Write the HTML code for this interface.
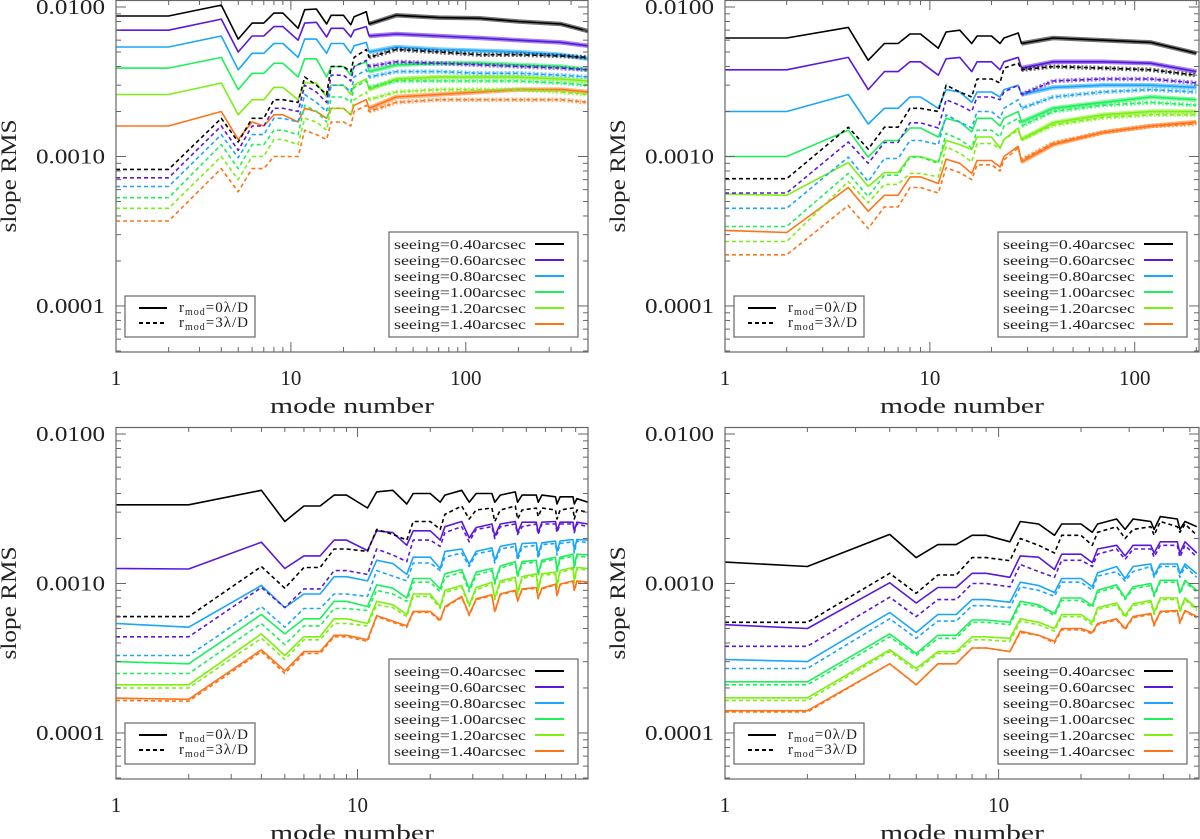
<!DOCTYPE html>
<html><head><meta charset="utf-8"><title>slope RMS vs mode number</title>
<style>
html,body{margin:0;padding:0;background:#fff;}
svg{display:block;font-family:"Liberation Serif",serif;}
</style></head>
<body>
<svg id="chart" width="1200" height="839" viewBox="0 0 1200 839" xmlns="http://www.w3.org/2000/svg"></svg>
<script>
// ---- shared data ----
const seeingLabels = ["seeing=0.40arcsec","seeing=0.60arcsec","seeing=0.80arcsec","seeing=1.00arcsec","seeing=1.20arcsec","seeing=1.40arcsec"];
const seeingColors = ["#000000","#5a18dc","#1aa6fa","#1cf05a","#7cf010","#ff7418"];
const yTickValues = [0.01,0.001,0.0001];
const yTickLabels = ["0.0100","0.0010","0.0001"];

// ---- top-left panel ----
const tlModes = [1,2,4,5,6,7,8,9,11,12,14,16,17,20,22,23,27,28,40,70,120,200,350,500];
const tlSolid = [
[0.0087,0.0087,0.0103,0.0061,0.0078,0.0078,0.0091,0.0091,0.0072,0.0096,0.0097,0.0077,0.0088,0.0088,0.0076,0.0086,0.0093,0.0077,0.0088,0.0085,0.0084,0.0080,0.0077,0.0069],
[0.0070,0.0070,0.0083,0.0050,0.0064,0.0064,0.0074,0.0074,0.0060,0.0078,0.0079,0.0063,0.0072,0.0072,0.0063,0.0070,0.0074,0.0064,0.0066,0.0064,0.0062,0.0060,0.0058,0.0055],
[0.0054,0.0054,0.0064,0.0038,0.0049,0.0049,0.0057,0.0057,0.0046,0.0061,0.0061,0.0049,0.0057,0.0057,0.0049,0.0055,0.0058,0.0050,0.0054,0.0052,0.0051,0.0050,0.0048,0.0045],
[0.0039,0.0039,0.0046,0.0028,0.0036,0.0036,0.0042,0.0042,0.0034,0.0045,0.0045,0.0034,0.0040,0.0040,0.0035,0.0040,0.0043,0.0037,0.0041,0.0042,0.0042,0.0041,0.0040,0.0038],
[0.0026,0.0026,0.0031,0.0019,0.0024,0.0024,0.0029,0.0029,0.0024,0.0031,0.0031,0.0025,0.0030,0.0030,0.0026,0.0030,0.0033,0.0028,0.0033,0.0034,0.0034,0.0034,0.0033,0.0032],
[0.0016,0.0016,0.0020,0.0013,0.0017,0.0016,0.0019,0.0019,0.0017,0.0021,0.0020,0.0018,0.0021,0.0021,0.0019,0.0022,0.0024,0.0021,0.0025,0.0026,0.0027,0.0028,0.0028,0.0027]];
const tlDashed = [
[0.00082,0.00082,0.0018,0.00125,0.0018,0.0018,0.0024,0.0024,0.0023,0.0034,0.0030,0.0026,0.0040,0.0040,0.0037,0.0046,0.0052,0.0046,0.0052,0.0050,0.0048,0.0048,0.0047,0.0046],
[0.00072,0.00072,0.0016,0.0011,0.0016,0.0016,0.0021,0.0021,0.0020,0.0030,0.0027,0.0023,0.0035,0.0035,0.0032,0.0040,0.0044,0.0040,0.0043,0.0042,0.0041,0.0040,0.0039,0.0038],
[0.00063,0.00063,0.0014,0.00098,0.0014,0.0014,0.0018,0.0018,0.0017,0.0026,0.0023,0.0020,0.0030,0.0030,0.0027,0.0034,0.0038,0.0034,0.0037,0.0037,0.0036,0.0036,0.0035,0.0034],
[0.00053,0.00053,0.0012,0.00083,0.0012,0.0012,0.0015,0.0015,0.0014,0.0022,0.0020,0.0017,0.0025,0.0025,0.0023,0.0029,0.0032,0.0029,0.0032,0.0032,0.0032,0.0032,0.0031,0.0030],
[0.00045,0.00045,0.0010,0.00070,0.0010,0.0010,0.0013,0.0013,0.0012,0.0018,0.0017,0.0015,0.0021,0.0021,0.0019,0.0024,0.0027,0.0024,0.0027,0.0028,0.0028,0.0028,0.0027,0.0026],
[0.00037,0.00037,0.00083,0.00058,0.00083,0.00083,0.0010,0.0010,0.0010,0.0015,0.0014,0.0013,0.0017,0.0017,0.0016,0.0020,0.0022,0.0020,0.0023,0.0024,0.0024,0.0024,0.0024,0.0023]];

// ---- top-right panel ----
const trModes = [1,2,4,5,6,7,8,9,11,12,14,16,17,20,22,23,27,28,40,70,120,200];
const trSolid = [
[0.0062,0.0062,0.0073,0.0044,0.0057,0.0057,0.0066,0.0066,0.0053,0.0068,0.0070,0.0057,0.0064,0.0064,0.0057,0.0062,0.0067,0.0057,0.0062,0.0060,0.0058,0.0049],
[0.0038,0.0038,0.0046,0.0028,0.0037,0.0037,0.0043,0.0043,0.0035,0.0045,0.0046,0.0037,0.0043,0.0043,0.0038,0.0043,0.0046,0.0039,0.0043,0.0043,0.0042,0.0037],
[0.0020,0.0020,0.0026,0.00165,0.0021,0.0021,0.0025,0.0025,0.0021,0.0028,0.0027,0.0023,0.0027,0.0027,0.0025,0.0028,0.0030,0.0026,0.0029,0.0030,0.0030,0.0029],
[0.0010,0.0010,0.0015,0.00099,0.00128,0.00128,0.00155,0.00155,0.00135,0.0018,0.0017,0.00146,0.0018,0.0018,0.0016,0.0018,0.0020,0.0017,0.0021,0.0023,0.0025,0.0024],
[0.00056,0.00055,0.00091,0.00063,0.00078,0.00078,0.0010,0.0010,0.00092,0.00128,0.0012,0.00111,0.00135,0.00135,0.00114,0.0013,0.00155,0.0013,0.00168,0.0019,0.0020,0.0020],
[0.00032,0.00031,0.00062,0.00043,0.00055,0.00055,0.00073,0.00073,0.00066,0.00096,0.0009,0.00077,0.00094,0.00094,0.00085,0.0010,0.00117,0.00092,0.0012,0.00145,0.0016,0.0017]];
const trDashed = [
[0.00071,0.00071,0.00157,0.00112,0.00157,0.00157,0.0021,0.0021,0.0020,0.0030,0.0027,0.0025,0.0033,0.0033,0.0031,0.0039,0.0042,0.0038,0.0040,0.0039,0.0038,0.0035],
[0.00057,0.00057,0.00125,0.0009,0.00124,0.00124,0.00168,0.00168,0.00155,0.0024,0.0022,0.0020,0.0025,0.0025,0.0024,0.0027,0.0030,0.0026,0.0032,0.0033,0.0033,0.0031],
[0.00045,0.00045,0.00099,0.00068,0.00097,0.00097,0.00128,0.00128,0.0012,0.0019,0.0017,0.00155,0.0020,0.0020,0.0018,0.0021,0.0024,0.0021,0.0025,0.0027,0.0028,0.0027],
[0.00034,0.00034,0.00077,0.00054,0.00075,0.00075,0.00099,0.00099,0.0009,0.00143,0.0013,0.00114,0.0015,0.0015,0.00135,0.0016,0.0018,0.0016,0.0020,0.0022,0.0023,0.0022],
[0.00027,0.00027,0.00068,0.00049,0.00065,0.00065,0.00077,0.00077,0.00073,0.00116,0.00105,0.00092,0.00122,0.00122,0.00113,0.0013,0.0015,0.0013,0.00162,0.00182,0.0019,0.0019],
[0.00022,0.00022,0.00047,0.00033,0.00046,0.00046,0.00062,0.00062,0.00057,0.00084,0.00078,0.0007,0.00088,0.00088,0.0008,0.00095,0.00114,0.00095,0.00123,0.00145,0.0016,0.00165]];

// ---- bottom-left panel ----
const blModes = [1,2,4,5,6,7,8,9,11,12,14,16,17,20,22,23,27,29,31,36,37,39,45,46,48,55,56,58,66,67,69,78,79,81,90];
const blSolid = [
[0.00336,0.00336,0.0042,0.0026,0.0033,0.0033,0.0039,0.0039,0.0032,0.0041,0.0042,0.0034,0.0040,0.0040,0.0035,0.0039,0.0042,0.0035,0.0040,0.0040,0.0035,0.0039,0.0041,0.0035,0.0039,0.0039,0.0035,0.0039,0.0038,0.0034,0.0038,0.0038,0.0034,0.0037,0.0035],
[0.00126,0.00125,0.00189,0.00126,0.00153,0.00153,0.00195,0.00195,0.00166,0.00225,0.00219,0.0018,0.00225,0.00225,0.00195,0.0024,0.0026,0.00202,0.00237,0.0025,0.00208,0.0025,0.0026,0.00219,0.00257,0.00257,0.00219,0.00257,0.0026,0.00225,0.00257,0.00257,0.00225,0.00257,0.0025],
[0.00054,0.00051,0.00097,0.00069,0.00085,0.00085,0.00111,0.00111,0.00104,0.00143,0.00136,0.00115,0.0015,0.0015,0.00126,0.00164,0.0017,0.00135,0.00164,0.00173,0.00143,0.00177,0.00185,0.0015,0.00185,0.00187,0.00155,0.00187,0.00192,0.00164,0.00192,0.00197,0.00168,0.00197,0.00195],
[0.0003,0.00029,0.00062,0.00046,0.00058,0.00058,0.00076,0.00076,0.0007,0.00098,0.00093,0.0008,0.00108,0.00108,0.00092,0.00116,0.00124,0.00092,0.00119,0.00126,0.00102,0.00131,0.0014,0.00113,0.0014,0.00143,0.00116,0.00143,0.0015,0.00122,0.0015,0.00157,0.0013,0.00157,0.00155],
[0.00021,0.00021,0.00046,0.00033,0.00044,0.00044,0.00058,0.00058,0.00054,0.00076,0.00072,0.00062,0.00085,0.00085,0.0007,0.0009,0.00097,0.00072,0.00094,0.00102,0.0008,0.00104,0.0011,0.00087,0.00111,0.00116,0.00092,0.00116,0.00119,0.00097,0.00122,0.00128,0.00104,0.00128,0.00126],
[0.000171,0.000168,0.00036,0.00026,0.00035,0.00035,0.00045,0.00045,0.00042,0.00061,0.00056,0.00052,0.00065,0.00065,0.00057,0.0007,0.00082,0.00062,0.00079,0.00084,0.00065,0.00085,0.0009,0.00077,0.00092,0.00094,0.0008,0.00093,0.00099,0.00083,0.00099,0.00104,0.0009,0.00104,0.00102]];
const blDashed = [
[0.0006,0.0006,0.0013,0.00093,0.00128,0.00128,0.0017,0.0017,0.00164,0.0023,0.00213,0.00195,0.0026,0.0026,0.0023,0.0029,0.0033,0.0027,0.0031,0.0032,0.0026,0.0031,0.0033,0.0027,0.0031,0.0032,0.0028,0.0032,0.0031,0.0027,0.0031,0.0032,0.0027,0.0031,0.0030],
[0.00044,0.00044,0.00094,0.00069,0.00092,0.00092,0.00122,0.00122,0.00115,0.0017,0.00155,0.0014,0.00195,0.00195,0.00177,0.00219,0.0024,0.0019,0.0023,0.0024,0.002,0.0024,0.0025,0.00213,0.0024,0.0025,0.00213,0.0025,0.0025,0.00219,0.0025,0.0025,0.00219,0.0025,0.0024],
[0.00033,0.00033,0.0007,0.00051,0.00068,0.00068,0.00085,0.00085,0.00082,0.00122,0.00112,0.00104,0.00137,0.00137,0.00122,0.0015,0.0016,0.0013,0.00158,0.00166,0.00137,0.0017,0.00177,0.00143,0.00175,0.0018,0.00147,0.00182,0.00185,0.00155,0.00185,0.0019,0.0016,0.00192,0.00187],
[0.00025,0.00025,0.00054,0.00039,0.00052,0.00052,0.00068,0.00068,0.00066,0.0009,0.00085,0.00076,0.00102,0.00102,0.00088,0.0011,0.00119,0.00088,0.00114,0.00122,0.00099,0.00127,0.00136,0.0011,0.00136,0.00139,0.00113,0.00139,0.00146,0.00118,0.00146,0.00152,0.00126,0.00152,0.0015],
[0.0002,0.0002,0.00043,0.00031,0.00042,0.00042,0.00054,0.00054,0.00052,0.00072,0.00069,0.0006,0.00082,0.00082,0.00068,0.00087,0.00094,0.0007,0.00091,0.00099,0.00078,0.00101,0.00107,0.00084,0.00108,0.00113,0.00089,0.00113,0.00116,0.00094,0.00119,0.00125,0.00101,0.00125,0.00123],
[0.000165,0.000163,0.00035,0.00025,0.00034,0.00034,0.00044,0.00044,0.00041,0.0006,0.00055,0.00051,0.00064,0.00064,0.00056,0.00069,0.00081,0.00061,0.00078,0.00083,0.00064,0.00084,0.00089,0.00076,0.00091,0.00093,0.00079,0.00092,0.00098,0.00082,0.00098,0.00103,0.00089,0.00103,0.00101]];

// ---- bottom-right panel ----
const brModes = [1,2,4,5,6,7,8,9,11,12,14,16,17,20,22,23,27,29,31,36,37,39,45,46,48,53];
const brSolid = [
[0.00139,0.0013,0.00213,0.00149,0.00182,0.00182,0.0021,0.0021,0.0019,0.0026,0.0025,0.0021,0.0025,0.0025,0.0022,0.0025,0.0027,0.0023,0.0027,0.0026,0.0023,0.0028,0.0027,0.0023,0.0026,0.0024],
[0.00053,0.0005,0.00101,0.00074,0.00094,0.00094,0.00117,0.00117,0.0011,0.00153,0.0015,0.00124,0.00157,0.00157,0.00138,0.0017,0.0018,0.00153,0.0018,0.0018,0.0016,0.0019,0.0019,0.0016,0.0019,0.0016],
[0.00031,0.0003,0.00064,0.00047,0.00062,0.00062,0.00078,0.00078,0.00075,0.00102,0.00097,0.00087,0.00108,0.00108,0.00095,0.00118,0.0013,0.00108,0.0013,0.00135,0.00113,0.00135,0.00135,0.00116,0.00135,0.00116],
[0.00022,0.00022,0.00046,0.00034,0.00045,0.00045,0.00057,0.00057,0.00055,0.00076,0.00072,0.00063,0.0008,0.0008,0.00071,0.0009,0.00098,0.0008,0.00095,0.001,0.00084,0.00105,0.00105,0.00087,0.00105,0.0009],
[0.000172,0.000172,0.00036,0.00027,0.00035,0.00035,0.00044,0.00044,0.00043,0.00058,0.00055,0.0005,0.00062,0.00062,0.00055,0.00069,0.00074,0.00061,0.00073,0.00077,0.00064,0.0008,0.0008,0.00066,0.0008,0.00068],
[0.000141,0.000141,0.00029,0.00021,0.00029,0.00029,0.00037,0.00037,0.00035,0.00048,0.00045,0.00041,0.0005,0.0005,0.00047,0.00054,0.00058,0.0005,0.0006,0.00063,0.00053,0.00065,0.00066,0.00055,0.00066,0.0006]];
const brDashed = [
[0.00055,0.00055,0.00117,0.00086,0.00114,0.00114,0.00149,0.00149,0.00142,0.002,0.0018,0.0016,0.0021,0.0021,0.0018,0.0022,0.0024,0.002,0.0023,0.0024,0.0021,0.0026,0.0024,0.0022,0.0025,0.0021],
[0.00038,0.00038,0.00081,0.0006,0.00078,0.00078,0.001,0.001,0.00095,0.00134,0.0012,0.0011,0.00143,0.00143,0.0013,0.00157,0.0017,0.00145,0.0017,0.0017,0.0015,0.0018,0.0018,0.0015,0.0018,0.0015],
[0.00027,0.00027,0.00058,0.00043,0.00056,0.00056,0.00071,0.00071,0.00069,0.00095,0.0009,0.00082,0.00102,0.00102,0.0009,0.00112,0.0012,0.00104,0.0012,0.0013,0.0011,0.0013,0.0013,0.0011,0.0013,0.0011],
[0.00021,0.00021,0.00044,0.00033,0.00043,0.00043,0.00055,0.00055,0.00053,0.00073,0.0007,0.00061,0.00077,0.00077,0.00069,0.00087,0.00095,0.00078,0.00092,0.00097,0.00082,0.00102,0.00102,0.00085,0.00102,0.00088],
[0.000165,0.000165,0.00035,0.00026,0.00034,0.00034,0.00042,0.00042,0.00041,0.00056,0.00053,0.00048,0.0006,0.0006,0.00053,0.00067,0.00072,0.00059,0.00071,0.00075,0.00062,0.00078,0.00078,0.00064,0.00078,0.00066],
[0.000138,0.000138,0.00029,0.00021,0.00029,0.00029,0.00037,0.00037,0.00035,0.00047,0.00045,0.0004,0.00049,0.00049,0.00046,0.00053,0.00057,0.00049,0.00059,0.00062,0.00052,0.00064,0.00065,0.00054,0.00065,0.00059]];

const NS = "http://www.w3.org/2000/svg";
const svg = document.getElementById("chart");
function mk(tag, attrs, parent) {
  const e = document.createElementNS(NS, tag);
  for (const k in attrs) e.setAttribute(k, attrs[k]);
  (parent || svg).appendChild(e);
  return e;
}

const panels = [
  {id:"top-left", L:116, R:588, T:0, B:352, xmax:500, noisyFrom:30, xticks:[1,10,100], modes:tlModes, solid:tlSolid, dashed:tlDashed},
  {id:"top-right", L:725, R:1199, T:0, B:352, xmax:206, noisyFrom:30, xticks:[1,10,100], modes:trModes, solid:trSolid, dashed:trDashed},
  {id:"bottom-left", L:116, R:588, T:427, B:779, xmax:90, noisyFrom:0, xticks:[1,10], modes:blModes, solid:blSolid, dashed:blDashed},
  {id:"bottom-right", L:725, R:1199, T:427, B:779, xmax:54, noisyFrom:0, xticks:[1,10], modes:brModes, solid:brSolid, dashed:brDashed}
];
const YMIN = 4.92e-5, YMAX = 0.01114;

panels.forEach(p => {
  const g = mk("g", {});
  
  
  const xs = v => p.L + Math.log10(v) / Math.log10(p.xmax) * (p.R - p.L);
  const ys = v => p.T + (Math.log10(YMAX) - Math.log10(v)) / (Math.log10(YMAX) - Math.log10(YMIN)) * (p.B - p.T);

  const cp = mk("clipPath", {id: "clip-" + p.id}, g);
  mk("rect", {x: p.L, y: p.T, width: p.R - p.L, height: p.B - p.T}, cp);

  const sg = mk("g", {"clip-path": "url(#clip-" + p.id + ")"}, g);
  [["solid", p.solid, null], ["dashed", p.dashed, "4,3"]].forEach(([style, arr, dash]) => {
    arr.forEach((vals, si) => {
      const n = Math.min(vals.length, p.modes.length);
      let d = "", dn = "";
      for (let i = 0; i < n; i++) {
        const pt = xs(p.modes[i]).toFixed(1) + "," + ys(vals[i]).toFixed(1);
        d += (i ? "L" : "M") + pt;
        if (p.noisyFrom && p.modes[i] >= 28) dn += (dn ? "L" : "M") + pt;
      }
      const path = mk("path", {d: d, fill: "none", stroke: seeingColors[si], "stroke-width": 1.6, "stroke-linejoin": "round"}, sg);
      if (dash) path.setAttribute("stroke-dasharray", dash);
      
      
      if (dn) {
        const band = mk("path", {d: dn, fill: "none", stroke: seeingColors[si], "stroke-width": 4.5, "stroke-opacity": 0.55, "stroke-linejoin": "round"}, sg);
        if (dash) band.setAttribute("stroke-dasharray", "2,2");
        
        
      }
    });
  });

  const box = mk("rect", {x: p.L, y: p.T + 0.5, width: p.R - p.L, height: p.B - p.T - 0.5, fill: "none", stroke: "#666", "stroke-width": 1.2}, g);
  
  

  const tg = mk("g", {stroke: "#666", "stroke-width": 1}, g);
  for (let dec = 1; dec <= 100; dec *= 10) {
    for (let m = 1; m <= 9; m++) {
      const v = dec * m;
      if (v > p.xmax) continue;
      const x = xs(v), len = m === 1 ? 10 : 5;
      mk("line", {x1: x, y1: p.B, x2: x, y2: p.B - len}, tg);
      mk("line", {x1: x, y1: p.T, x2: x, y2: p.T + len}, tg);
    }
  }
  for (let dec = 1e-5; dec <= 1e-2; dec *= 10) {
    for (let m = 1; m <= 9; m++) {
      const v = dec * m;
      if (v < YMIN || v > YMAX) continue;
      const y = ys(v), len = m === 1 ? 10 : 5;
      mk("line", {x1: p.L, y1: y, x2: p.L + len, y2: y}, tg);
      mk("line", {x1: p.R, y1: y, x2: p.R - len, y2: y}, tg);
    }
  }
  p.xticks.forEach(v => {
    const t = mk("text", {x: xs(v), y: p.B + 33, "text-anchor": "middle", "font-size": 21, fill: "#222"}, g);
    t.textContent = String(v);
    
    
  });
  yTickValues.forEach((v, i) => {
    const t = mk("text", {x: p.L - 11, y: ys(v) + 7, "text-anchor": "end", "font-size": 21, fill: "#222", textLength: 69, lengthAdjust: "spacingAndGlyphs"}, g);
    t.textContent = yTickLabels[i];
    
    
  });
  const xt = mk("text", {x: (p.L + p.R) / 2, y: p.B + 61, "text-anchor": "middle", "font-size": 22, fill: "#222", textLength: 164, lengthAdjust: "spacingAndGlyphs"}, g);
  xt.textContent = "mode number";
  
  
  const yx = p.L - 100, yc = (p.T + p.B) / 2;
  const yt = mk("text", {x: yx, y: yc, "text-anchor": "middle", "font-size": 22, fill: "#222", textLength: 113, lengthAdjust: "spacingAndGlyphs", transform: "rotate(-90 " + yx + " " + yc + ")"}, g);
  yt.textContent = "slope RMS";
  
  

  const lg = mk("g", {}, g);
  
  
  const lx = p.L + 273, ly = p.T + 232;
  mk("rect", {x: lx, y: ly, width: 189, height: 105, fill: "#fff", stroke: "#666", "stroke-width": 1.2}, lg);
  seeingLabels.forEach((s, i) => {
    const cy = ly + 12 + 16 * i;
    const t = mk("text", {x: lx + 5, y: cy + 5, "font-size": 14, fill: "#222", textLength: 132, lengthAdjust: "spacingAndGlyphs"}, lg);
    t.textContent = s;
    
    
    const ln = mk("line", {x1: lx + 146, y1: cy, x2: lx + 175, y2: cy, stroke: seeingColors[i], "stroke-width": 2}, lg);
    
    
  });

  const mg = mk("g", {}, g);
  
  
  const mx = p.L + 9, my = p.T + 296;
  mk("rect", {x: mx, y: my, width: 130, height: 41, fill: "#fff", stroke: "#666", "stroke-width": 1.2}, mg);
  ["0", "3"].forEach((r, i) => {
    const cy = my + 12 + 15 * i;
    const ln = mk("line", {x1: mx + 14, y1: cy, x2: mx + 42, y2: cy, stroke: "#000", "stroke-width": 2}, mg);
    if (i === 1) ln.setAttribute("stroke-dasharray", "4,3");
    
    
    const t = mk("text", {x: mx + 54, y: cy + 4, "font-size": 15, fill: "#222", "letter-spacing": 1}, mg);
    
    
    t.appendChild(document.createTextNode("r"));
    const sub = mk("tspan", {dy: 3, "font-size": 10}, t);
    sub.textContent = "mod";
    const rest = mk("tspan", {dy: -3}, t);
    rest.textContent = "=" + r + "λ/D";
  });
});
</script>
</body></html>
